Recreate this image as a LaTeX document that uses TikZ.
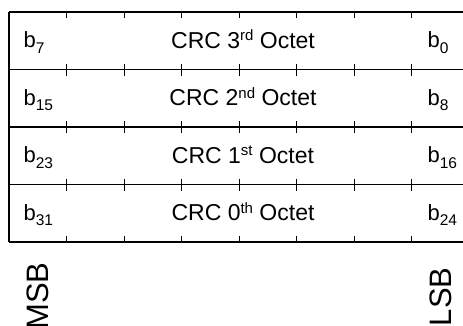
\documentclass[tikz,border=0pt]{standalone}
\usepackage{fontspec}
\setmainfont{Liberation Sans}
\usetikzlibrary{positioning}
\newcommand\bitsub[1]{\raisebox{-5.5pt}{\fontsize{15.5}{15.5}\selectfont #1}}
\newcommand\ordsup[1]{\raisebox{7.5pt}{\fontsize{15}{15}\selectfont #1}}
\tikzset{
  bitlab/.style={font=\fontsize{22}{22}\selectfont, inner sep=0pt, anchor=base west},
  octlab/.style={font=\fontsize{23}{23}\selectfont, inner sep=0pt, anchor=base},
  endlab/.style={font=\fontsize{31}{31}\selectfont, inner sep=0pt, rotate=90, anchor=base east},
  tick/.style={line width=0.9pt}
}

\begin{document}
\begin{tikzpicture}[x=1pt,y=-1pt,line width=1.2pt]
\useasboundingbox (0,0) rectangle (463,325);
\clip (0,0) rectangle (463,325);
% frame and row lines
\foreach \r in {0,...,4} \draw (9,12+57.5*\r) -- (469,12+57.5*\r);
\draw (9,12) -- (9,242);
\draw (469,12) -- (469,242);
% ticks on the row lines
\foreach \c in {1,...,7} {
  \draw[tick] (9+57.5*\c,12) -- ++(0,6);
  \draw[tick] (9+57.5*\c,242) -- ++(0,-6);
  \foreach \r in {1,2,3} \draw[tick] (9+57.5*\c,12+57.5*\r-6) -- ++(0,12);
}
% labels of the octets
\foreach \r/\hi/\lo/\oct/\ord in {0/7/0/3/rd,1/15/8/2/nd,2/23/16/1/st,3/31/24/0/th} {
  \node[bitlab] (hi\r) at (23,47.5+57.5*\r) {b\bitsub{\hi}};
  \node[bitlab] (lo\r) at (427,47.5+57.5*\r) {b\bitsub{\lo}};
  \node[octlab] (oct\r) at (243,48.3+57.5*\r) {CRC \oct\ordsup{\ord} Octet};
}
\node[endlab] (msb) at (48,262) {MSB};
\node[endlab] (lsb) at (451,267) {LSB};
\end{tikzpicture}
\end{document}
